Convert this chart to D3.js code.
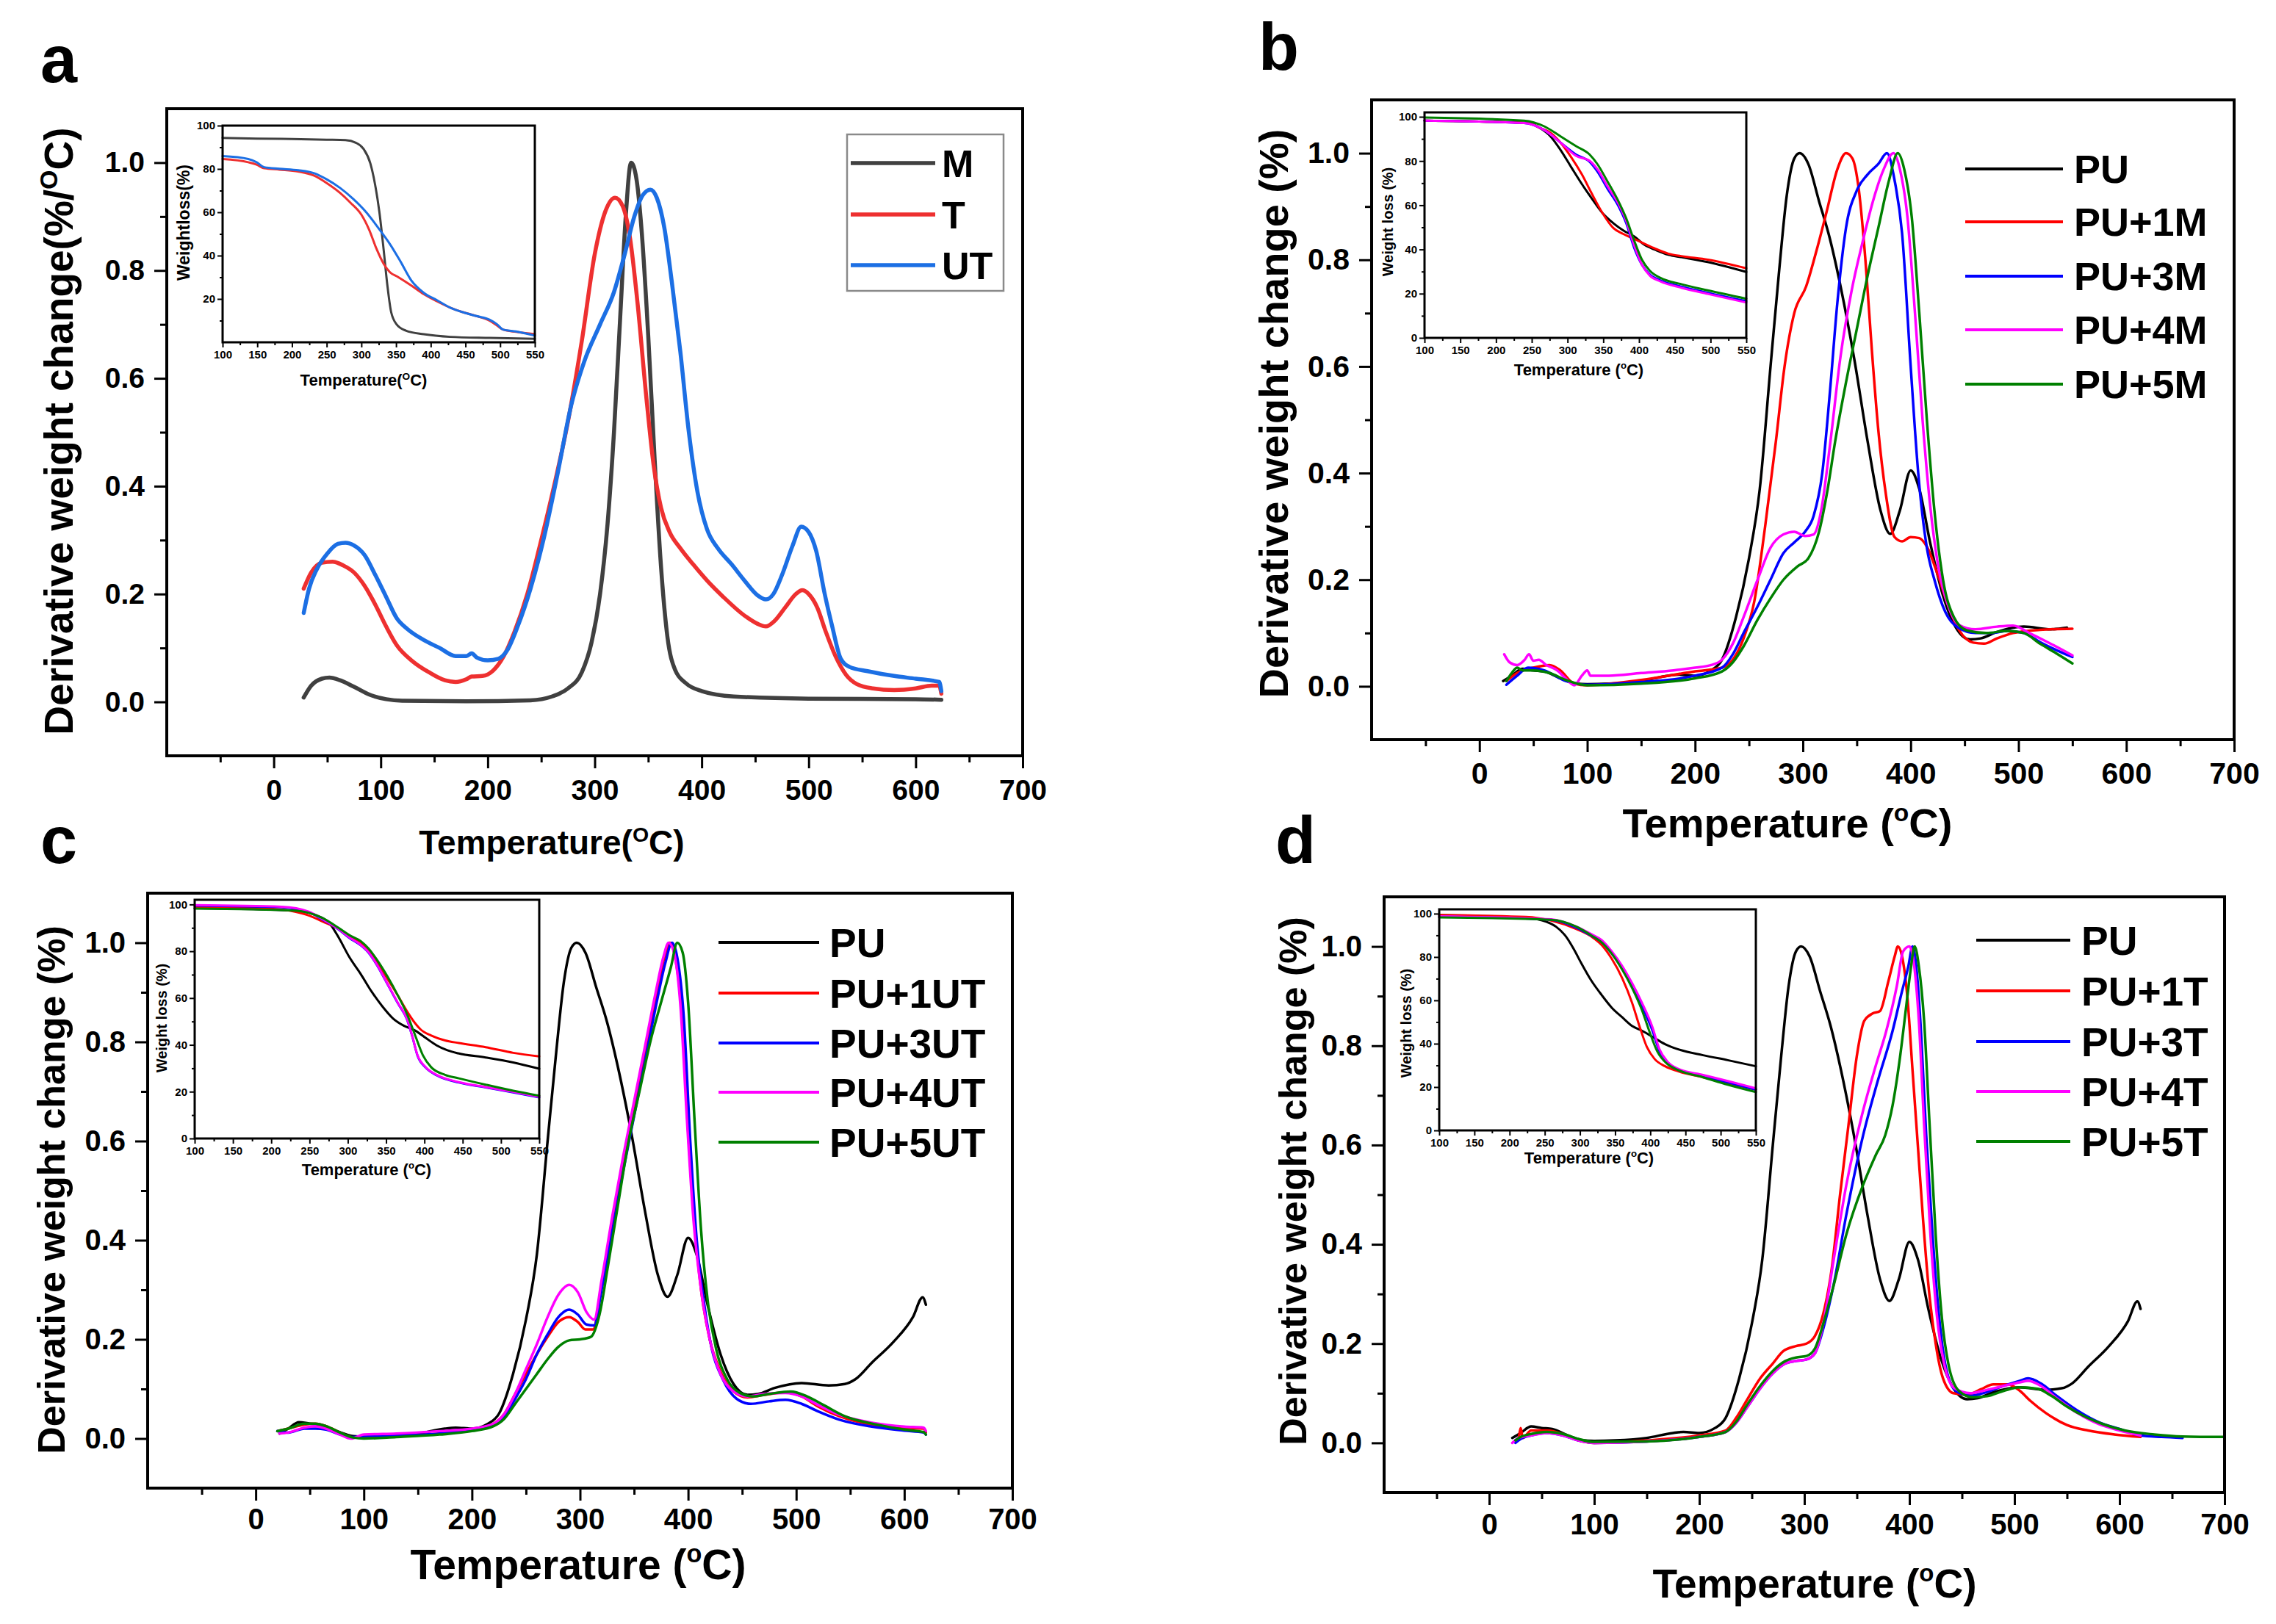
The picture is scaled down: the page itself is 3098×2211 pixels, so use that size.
<!DOCTYPE html>
<html><head><meta charset="utf-8">
<script src="https://cdn.jsdelivr.net/npm/d3@7"></script>
<style>body{margin:0;background:#fff}</style>
</head><body><svg id="chart" width="3098" height="2211"></svg>
<script>
// ---------------- DATA ----------------
const mainXTicks = [0,100,200,300,400,500,600,700];
const mainXMinor = [-50,50,150,250,350,450,550,650];
const mainYTicks = [0,0.2,0.4,0.6,0.8,1.0];
const mainYMinor = [0.1,0.3,0.5,0.7,0.9];
const insetXTicks = [100,150,200,250,300,350,400,450,500,550];
const insetXMinor = [125,175,225,275,325,375,425,475,525];
const insetYTicksA = [20,40,60,80,100];
const insetYTicks = [0,20,40,60,80,100];
const insetYMinor = [10,30,50,70,90];

const legendA = ['M','T','UT'];
const legendB = ['PU','PU+1M','PU+3M','PU+4M','PU+5M'];
const legendC = ['PU','PU+1UT','PU+3UT','PU+4UT','PU+5UT'];
const legendD = ['PU','PU+1T','PU+3T','PU+4T','PU+5T'];

// Panel a: DTG
const a_M = [[28,0.008],[35,0.03],[45,0.043],[52,0.045],[62,0.04],[75,0.028],[90,0.013],[105,0.005],[120,0.002],[180,0.001],[240,0.003],[260,0.01],[275,0.025],[288,0.055],[297,0.11],[305,0.2],[312,0.33],[318,0.5],[324,0.72],[329,0.9],[334,1.0],[339,0.97],[344,0.87],[350,0.68],[356,0.45],[362,0.25],[368,0.12],[375,0.06],[385,0.035],[400,0.02],[430,0.01],[500,0.006],[600,0.005],[624,0.004]];
const a_T = [[28,0.21],[35,0.24],[45,0.258],[55,0.26],[65,0.253],[75,0.24],[85,0.215],[95,0.18],[105,0.14],[115,0.105],[130,0.075],[145,0.055],[160,0.04],[170,0.037],[180,0.042],[185,0.047],[195,0.048],[205,0.058],[215,0.085],[225,0.13],[237,0.2],[250,0.3],[262,0.4],[275,0.52],[288,0.67],[300,0.83],[310,0.91],[319,0.935],[326,0.92],[333,0.86],[340,0.74],[348,0.57],[355,0.44],[362,0.36],[370,0.315],[380,0.285],[392,0.255],[405,0.225],[420,0.195],[440,0.16],[452,0.145],[460,0.14],[468,0.15],[478,0.175],[488,0.2],[494,0.207],[500,0.2],[508,0.175],[516,0.13],[525,0.085],[535,0.05],[545,0.033],[560,0.025],[580,0.022],[600,0.025],[615,0.03],[622,0.03],[624,0.015]];
const a_UT = [[28,0.165],[33,0.21],[40,0.245],[50,0.275],[60,0.293],[67,0.295],[75,0.29],[85,0.272],[95,0.235],[105,0.195],[115,0.155],[125,0.135],[140,0.115],[155,0.1],[170,0.085],[180,0.085],[185,0.09],[190,0.082],[200,0.077],[210,0.08],[218,0.095],[228,0.14],[240,0.21],[252,0.3],[265,0.42],[278,0.55],[290,0.63],[305,0.7],[318,0.76],[328,0.83],[337,0.9],[345,0.94],[352,0.95],[358,0.935],[365,0.88],[372,0.78],[380,0.65],[388,0.5],[396,0.39],[405,0.32],[415,0.285],[428,0.255],[440,0.225],[452,0.198],[460,0.19],[467,0.2],[475,0.235],[485,0.29],[493,0.325],[500,0.315],[507,0.28],[515,0.2],[522,0.14],[530,0.08],[538,0.065],[555,0.057],[580,0.048],[600,0.043],[622,0.037],[624,0.02]];

// Pure PU (shared by b, c, d)
const PU = [[22,0.01],[30,0.02],[40,0.033],[50,0.03],[60,0.028],[75,0.015],[90,0.005],[100,0.004],[120,0.005],[150,0.01],[175,0.02],[185,0.022],[200,0.02],[215,0.03],[225,0.05],[238,0.13],[250,0.24],[260,0.37],[270,0.6],[278,0.78],[285,0.92],[292,0.99],[297,1.0],[305,0.98],[315,0.91],[325,0.84],[335,0.75],[348,0.61],[360,0.46],[372,0.33],[381,0.286],[390,0.33],[400,0.405],[408,0.37],[418,0.27],[430,0.17],[442,0.11],[455,0.088],[465,0.09],[480,0.102],[505,0.112],[530,0.107],[545,0.11],[555,0.12],[570,0.153],[590,0.195],[608,0.245],[617,0.285],[620,0.27]];

// Panel b
const b_1M = [[25,0.01],[35,0.025],[50,0.035],[65,0.04],[75,0.03],[88,0.005],[100,0.002],[150,0.012],[200,0.028],[225,0.035],[235,0.05],[245,0.09],[255,0.16],[265,0.3],[275,0.46],[283,0.6],[292,0.7],[303,0.75],[313,0.82],[322,0.89],[332,0.97],[340,1.0],[346,0.99],[352,0.93],[358,0.8],[364,0.63],[370,0.48],[377,0.36],[385,0.28],[392,0.272],[400,0.28],[408,0.278],[415,0.262],[425,0.21],[435,0.15],[445,0.105],[458,0.082],[468,0.08],[480,0.09],[495,0.1],[520,0.106],[550,0.108]];
const b_3M = [[25,0.003],[35,0.02],[45,0.035],[60,0.03],[80,0.01],[100,0.003],[150,0.008],[200,0.02],[225,0.035],[235,0.06],[245,0.1],[258,0.15],[270,0.2],[282,0.25],[292,0.27],[302,0.29],[310,0.32],[318,0.4],[325,0.55],[332,0.72],[340,0.86],[350,0.93],[360,0.96],[370,0.98],[378,1.0],[385,0.95],[392,0.85],[400,0.6],[407,0.4],[415,0.26],[422,0.2],[432,0.14],[444,0.11],[460,0.1],[475,0.1],[490,0.104],[505,0.1],[520,0.083],[535,0.068],[550,0.055]];
const b_4M = [[23,0.06],[28,0.045],[35,0.04],[42,0.05],[46,0.06],[50,0.048],[55,0.05],[62,0.04],[72,0.03],[80,0.015],[88,0.002],[95,0.02],[100,0.03],[103,0.02],[120,0.02],[150,0.025],[180,0.03],[200,0.035],[215,0.04],[225,0.05],[235,0.08],[245,0.13],[258,0.2],[270,0.26],[282,0.285],[292,0.29],[302,0.282],[310,0.285],[317,0.33],[325,0.45],[335,0.62],[345,0.74],[355,0.83],[365,0.91],[375,0.97],[384,1.0],[390,0.97],[397,0.88],[404,0.7],[411,0.5],[418,0.34],[426,0.22],[435,0.15],[445,0.115],[460,0.107],[480,0.112],[495,0.114],[510,0.1],[525,0.085],[550,0.058]];
const b_5M = [[25,0.01],[30,0.025],[35,0.035],[40,0.03],[50,0.03],[65,0.025],[80,0.012],[100,0.002],[150,0.005],[200,0.015],[225,0.028],[235,0.045],[245,0.075],[258,0.125],[270,0.165],[282,0.2],[295,0.225],[305,0.24],[315,0.29],[323,0.37],[330,0.46],[340,0.57],[350,0.67],[360,0.77],[370,0.86],[380,0.95],[388,1.0],[394,0.97],[401,0.88],[408,0.7],[415,0.5],[422,0.33],[430,0.2],[440,0.13],[452,0.105],[470,0.1],[490,0.104],[505,0.1],[520,0.08],[535,0.062],[550,0.043]];

// Panel c
const c_1UT = [[20,0.015],[30,0.02],[45,0.028],[55,0.03],[65,0.025],[78,0.012],[90,0.002],[100,0.005],[130,0.005],[170,0.01],[200,0.018],[220,0.03],[230,0.05],[240,0.09],[250,0.13],[260,0.17],[270,0.205],[280,0.235],[290,0.245],[298,0.235],[305,0.22],[312,0.22],[320,0.31],[330,0.44],[340,0.56],[350,0.67],[360,0.78],[370,0.89],[378,0.97],[383,1.0],[388,0.97],[394,0.86],[400,0.62],[406,0.43],[412,0.3],[420,0.2],[430,0.135],[442,0.095],[455,0.083],[470,0.088],[490,0.093],[505,0.085],[520,0.065],[540,0.045],[570,0.028],[600,0.022],[618,0.02],[620,0.012]];
const c_3UT = [[20,0.015],[30,0.012],[45,0.02],[55,0.02],[65,0.018],[78,0.008],[90,0.003],[100,0.005],[130,0.006],[170,0.01],[200,0.018],[220,0.028],[230,0.045],[240,0.08],[250,0.12],[260,0.17],[270,0.21],[280,0.245],[290,0.26],[298,0.25],[306,0.23],[313,0.228],[320,0.3],[330,0.42],[340,0.54],[350,0.65],[360,0.76],[370,0.87],[379,0.96],[385,1.0],[390,0.97],[396,0.85],[402,0.6],[408,0.4],[415,0.27],[422,0.18],[432,0.12],[445,0.08],[458,0.07],[475,0.075],[490,0.078],[505,0.07],[520,0.055],[540,0.038],[570,0.024],[600,0.016],[618,0.012],[620,0.008]];
const c_4UT = [[22,0.01],[30,0.012],[45,0.022],[55,0.025],[65,0.02],[78,0.008],[88,0.0],[100,0.008],[130,0.01],[170,0.015],[200,0.02],[220,0.03],[230,0.05],[240,0.09],[250,0.14],[260,0.19],[270,0.245],[280,0.29],[290,0.31],[298,0.295],[306,0.255],[313,0.24],[320,0.32],[330,0.45],[340,0.57],[350,0.68],[360,0.79],[370,0.9],[377,0.97],[382,1.0],[387,0.98],[393,0.87],[399,0.64],[405,0.44],[412,0.3],[420,0.2],[430,0.13],[442,0.095],[455,0.085],[470,0.09],[490,0.092],[505,0.085],[520,0.068],[540,0.048],[570,0.032],[600,0.024],[618,0.022],[620,0.015]];
const c_5UT = [[20,0.015],[30,0.02],[45,0.03],[55,0.03],[65,0.025],[78,0.012],[90,0.002],[100,0.0],[130,0.003],[170,0.008],[200,0.015],[220,0.025],[230,0.04],[240,0.07],[250,0.1],[260,0.13],[270,0.16],[280,0.185],[290,0.198],[300,0.2],[310,0.205],[318,0.25],[326,0.35],[335,0.47],[345,0.6],[355,0.7],[365,0.8],[375,0.88],[384,0.95],[390,1.0],[395,0.98],[400,0.88],[406,0.64],[412,0.42],[418,0.28],[426,0.18],[436,0.12],[448,0.092],[460,0.085],[475,0.09],[495,0.095],[510,0.085],[525,0.068],[545,0.045],[575,0.028],[600,0.018],[618,0.013],[620,0.008]];

// Panel d
const d_1T = [[25,0.005],[28,0.01],[30,0.03],[32,0.01],[40,0.025],[55,0.025],[70,0.018],[85,0.005],[100,0.0],[150,0.005],[200,0.015],[225,0.025],[235,0.05],[245,0.085],[258,0.13],[270,0.16],[280,0.185],[292,0.195],[302,0.2],[310,0.215],[318,0.26],[326,0.35],[334,0.5],[342,0.64],[350,0.78],[357,0.85],[365,0.865],[372,0.87],[380,0.93],[386,0.98],[389,1.0],[393,0.98],[398,0.9],[403,0.75],[408,0.6],[413,0.45],[418,0.32],[425,0.2],[432,0.13],[442,0.1],[455,0.097],[468,0.108],[480,0.118],[494,0.118],[505,0.105],[515,0.085],[530,0.06],[550,0.036],[570,0.025],[595,0.017],[620,0.012]];
const d_3T = [[25,0.0],[30,0.008],[40,0.015],[55,0.02],[70,0.015],[85,0.005],[100,0.0],[150,0.003],[200,0.012],[225,0.022],[235,0.04],[245,0.07],[258,0.11],[270,0.14],[282,0.16],[292,0.165],[302,0.168],[310,0.18],[318,0.23],[328,0.32],[340,0.46],[356,0.62],[370,0.73],[384,0.83],[393,0.91],[399,0.96],[403,1.0],[407,0.95],[411,0.83],[416,0.62],[422,0.42],[428,0.26],[434,0.16],[444,0.105],[458,0.095],[470,0.1],[490,0.115],[505,0.125],[513,0.13],[525,0.12],[540,0.095],[560,0.065],[580,0.042],[600,0.028],[620,0.015],[640,0.012],[660,0.01]];
const d_4T = [[22,0.0],[28,0.01],[40,0.015],[55,0.02],[70,0.015],[85,0.005],[100,0.0],[150,0.003],[200,0.012],[225,0.022],[235,0.04],[245,0.07],[258,0.11],[270,0.14],[282,0.16],[292,0.165],[302,0.168],[310,0.18],[318,0.24],[328,0.37],[340,0.52],[356,0.67],[368,0.76],[378,0.83],[388,0.92],[394,0.99],[400,1.0],[404,0.97],[409,0.85],[414,0.64],[420,0.42],[426,0.26],[433,0.16],[443,0.11],[458,0.1],[470,0.105],[490,0.115],[505,0.122],[513,0.125],[525,0.115],[540,0.09],[560,0.06],[580,0.038],[600,0.025],[620,0.015]];
const d_5T = [[25,0.005],[30,0.012],[40,0.018],[55,0.022],[70,0.018],[85,0.008],[100,0.002],[150,0.003],[200,0.012],[225,0.022],[235,0.042],[245,0.075],[258,0.115],[270,0.145],[282,0.165],[292,0.172],[302,0.175],[310,0.19],[318,0.24],[328,0.318],[340,0.42],[356,0.52],[368,0.58],[377,0.62],[384,0.68],[391,0.776],[397,0.88],[401,0.95],[405,1.0],[409,0.96],[414,0.85],[419,0.65],[425,0.42],[431,0.25],[437,0.16],[447,0.105],[460,0.092],[474,0.094],[490,0.105],[505,0.112],[522,0.109],[535,0.095],[550,0.073],[568,0.052],[584,0.038],[605,0.025],[633,0.017],[660,0.013],[700,0.012]];

// Insets: TGA weight loss
const ia_M = [[100,94.3],[150,94],[200,93.8],[250,93.5],[277,93.3],[292,92.1],[303,89.3],[313,82.5],[320,72.4],[326,60],[332,43],[337.5,26.2],[343,13.8],[351,8.2],[364,5.4],[390,3.7],[428,2.5],[485,2],[550,1.6]];
const ia_T = [[100,84.6],[137,83.1],[149,82],[160,80.3],[182,79.7],[209,78.8],[232,76.9],[250,73.5],[269,69],[284,64.5],[300,58.9],[311,52.1],[322,43],[332,36.3],[341,32.4],[353,30.1],[372,26.2],[390,22.2],[409,18.9],[428,16],[447,13.8],[466,12.1],[485,9.9],[496,7.6],[504,5.9],[523,4.8],[550,3.7]];
const ia_UT = [[100,85.9],[137,84.6],[149,83.1],[160,80.8],[182,80.1],[209,79.4],[232,78],[250,75.2],[269,71.3],[288,66.2],[307,60],[326,52.1],[341,45.4],[356,37.5],[372,28.5],[390,22.8],[409,19.4],[428,16],[447,13.8],[466,12.1],[485,10.4],[496,8.2],[504,5.9],[523,5],[550,3.1]];

const ib_PU = [[100,98.3],[246,97.2],[261,95],[276,91.2],[290,85.1],[305,77.3],[320,69.6],[334,63],[349,56.4],[364,51.9],[378,48.6],[393,45.9],[408,42],[423,39.8],[441,37.6],[459,36.5],[496,34.3],[550,29.8]];
const ib_1M = [[100,98.3],[246,97.2],[261,95],[276,92.8],[290,88.4],[305,81.8],[320,74],[334,65.2],[349,56.4],[364,49.7],[378,47],[393,44.8],[408,42.5],[423,40.3],[441,38.1],[459,37],[496,35.4],[550,31.5]];
const ib_3M = [[100,98.3],[239,97.2],[268,93.9],[290,88.4],[312,82.9],[331,79.6],[342,75.1],[356,67.4],[371,59.7],[382,51.9],[393,40.9],[404,33.1],[415,28.7],[430,26],[459,23.2],[496,20.4],[550,16.6]];
const ib_4M = [[100,98.3],[239,97.2],[268,93.9],[290,88.4],[312,82.3],[331,80.1],[342,76.2],[356,68.5],[371,60.8],[382,53],[393,42],[404,33.1],[415,28.2],[430,25.5],[459,22.7],[496,19.9],[550,16]];
const ib_5M = [[100,99.7],[239,98.3],[268,95.6],[290,91.2],[312,86.7],[331,82.9],[342,78.5],[356,70.7],[371,61.9],[382,54.1],[393,44.2],[404,35.4],[415,30.4],[430,27.1],[459,24.3],[496,21.5],[550,17.7]];

const ic_PU = [[100,98.4],[231,97.4],[267,94.2],[278,91.1],[288,85.9],[302,77.5],[317,70.2],[331,62.8],[345,56.5],[359,51.3],[373,48.2],[388,46.1],[402,42.9],[416,39.8],[430,37.7],[444,36.4],[480,34.6],[516,32.5],[550,29.8]];
const ic_1UT = [[100,99],[196,98.2],[231,96.9],[249,95.3],[267,92.7],[288,89.5],[302,86.4],[317,83.8],[327,80.6],[338,75.4],[352,68.1],[366,60.7],[377,54.5],[388,49.2],[395,46.6],[409,44],[427,41.9],[445,40.8],[480,39],[516,36.6],[550,35.1]];
const ic_3UT = [[100,99.5],[214,98.8],[249,96.7],[267,93.5],[288,89.3],[302,85.7],[317,82.5],[327,79.4],[338,74.1],[352,65.8],[366,57.4],[377,51.1],[384,43.8],[391,35.4],[402,30.2],[416,27],[445,23.9],[480,21.8],[516,19.7],[550,17.6]];
const ic_4UT = [[100,99.7],[214,99],[249,96.9],[267,93.7],[288,89.5],[302,85.9],[317,82.7],[327,79.6],[338,74.3],[352,66],[366,57.6],[377,51.3],[384,44],[391,35.6],[402,30.4],[416,27.2],[445,24.1],[480,22],[516,19.9],[550,17.8]];
const ic_5UT = [[100,98.2],[231,97.4],[267,94.2],[288,90],[302,86.9],[317,84.3],[327,81.2],[338,76.4],[352,69.1],[366,60.7],[377,53.4],[388,44],[398,35.6],[409,30.4],[427,27.2],[445,25.7],[480,23],[516,20.4],[550,18.3]];

const id_PU = [[100,99.4],[223,98],[252,96.3],[266,94],[280,89.5],[291,83.8],[302,77.1],[316,69.2],[331,62.4],[345,56.7],[360,52.2],[374,48.2],[388,46],[403,43.2],[421,39.8],[439,37.5],[475,34.7],[510,32.4],[550,29.6]];
const id_1T = [[100,99.4],[223,98.5],[259,96.8],[295,92.9],[316,89.5],[331,85.5],[345,79.3],[360,70.3],[374,59],[385,47.7],[395,38.6],[406,33],[421,29.6],[439,27.3],[475,24.5],[510,21.7],[550,18.9]];
const id_3T = [[100,98.6],[259,97.2],[295,93.5],[316,89.8],[331,86.8],[345,81.6],[360,74.6],[374,66.5],[388,57.2],[403,46],[413,36.5],[424,31],[439,28],[475,25.1],[510,22.2],[550,18.8]];
const id_4T = [[100,98.8],[259,97.4],[295,94],[316,90.6],[331,87.8],[345,82.7],[360,75.9],[374,68],[388,59],[403,47.7],[413,37.5],[424,31.9],[439,28.5],[475,25.6],[510,22.8],[550,19.4]];
const id_5T = [[100,98.3],[259,97.2],[295,94],[316,90],[331,86.7],[345,81.6],[360,74.2],[374,65.8],[388,55.6],[399,45.4],[410,36.4],[424,30.7],[439,27.9],[475,24.5],[510,21.1],[550,17.7]];

// ---------------- DRAWING ----------------
const FONT = "'Liberation Sans', Arial, Helvetica, sans-serif";
const svg = d3.select('#chart');
svg.append('rect').attr('width',3098).attr('height',2211).attr('fill','#fff');

const colsA = ['#404040','#ee3030','#1c6fe4'];
const colsP = ['#000000','#ff0000','#0000ff','#ff00ff','#008000'];

function styleAxis(sel, fs, tw) {
  sel.select('.domain').remove();
  sel.selectAll('.tick line').attr('stroke','#000').attr('stroke-width',tw);
  sel.attr('font-family',FONT).attr('font-size',fs).attr('font-weight','bold');
  sel.selectAll('.tick text').attr('fill','#000');
}

function addText(g, t) {
  const txt = g.append('text')
    .attr('transform', `translate(${t.x},${t.y})` + (t.rot ? ' rotate(-90)' : ''))
    .attr('text-anchor', t.anchor || 'middle')
    .attr('font-family', FONT).attr('font-weight','bold')
    .attr('font-size', t.fs).attr('fill','#000');
  txt.append('tspan').text(t.pre);
  if (t.sup) {
    txt.append('tspan').attr('font-size', t.fs*t.supScale).attr('dy', -t.fs*t.supRise).text(t.sup);
    txt.append('tspan').attr('dy', t.fs*t.supRise).text(t.post);
  }
  return txt;
}

function drawInset(g, c) {
  const [x0,y0,x1,y1] = c.frame;
  const x = d3.scaleLinear().domain([100,550]).range([x0,x1]);
  const y = d3.scaleLinear().domain([0,c.ymax]).range([y1,y0]);
  g.append('rect').attr('x',x0).attr('y',y0).attr('width',x1-x0).attr('height',y1-y0).attr('fill','#fff');
  const line = d3.line().x(d=>x(d[0])).y(d=>y(d[1])).curve(d3.curveMonotoneX);
  c.series.forEach((s,i)=>{
    g.append('path').attr('d',line(s)).attr('fill','none').attr('stroke',c.colors[i])
      .attr('stroke-width',c.lw).attr('stroke-linejoin','round').attr('stroke-linecap','round');
  });
  const xa = g.append('g').attr('transform',`translate(0,${y1})`)
    .call(d3.axisBottom(x).tickValues(insetXTicks).tickSize(7).tickPadding(4).tickFormat(d3.format('d')));
  styleAxis(xa, c.fs, 2);
  const xm = g.append('g').attr('transform',`translate(0,${y1})`)
    .call(d3.axisBottom(x).tickValues(insetXMinor).tickSize(4).tickFormat(''));
  styleAxis(xm, c.fs, 2);
  const ya = g.append('g').attr('transform',`translate(${x0},0)`)
    .call(d3.axisLeft(y).tickValues(c.yTicks).tickSize(7).tickPadding(3).tickFormat(d3.format('d')));
  styleAxis(ya, c.fs, 2);
  const ym = g.append('g').attr('transform',`translate(${x0},0)`)
    .call(d3.axisLeft(y).tickValues(insetYMinor).tickSize(4).tickFormat(''));
  styleAxis(ym, c.fs, 2);
  g.append('rect').attr('x',x0).attr('y',y0).attr('width',x1-x0).attr('height',y1-y0)
    .attr('fill','none').attr('stroke','#000').attr('stroke-width',3);
  addText(g, c.xTitle);
  addText(g, c.yTitle);
}

function drawPanel(p) {
  const g = svg.append('g');
  const [x0,y0,x1,y1] = p.frame;
  const x = d3.scaleLinear().domain([-100,700]).range([x0,x1]);
  const y = d3.scaleLinear().domain([-0.1,1.1]).range([y1,y0]);
  const line = d3.line().x(d=>x(d[0])).y(d=>y(d[1])).curve(d3.curveMonotoneX);
  p.series.forEach((s,i)=>{
    g.append('path').attr('d',line(s)).attr('fill','none').attr('stroke',p.colors[i])
      .attr('stroke-width',p.lw).attr('stroke-linejoin','round').attr('stroke-linecap','round');
  });
  // axes
  const xa = g.append('g').attr('transform',`translate(0,${y1})`)
    .call(d3.axisBottom(x).tickValues(mainXTicks).tickSize(17).tickPadding(p.xpad).tickFormat(d3.format('d')));
  styleAxis(xa, p.tfs, 3);
  const xm = g.append('g').attr('transform',`translate(0,${y1})`)
    .call(d3.axisBottom(x).tickValues(mainXMinor).tickSize(9).tickFormat(''));
  styleAxis(xm, p.tfs, 3);
  const ya = g.append('g').attr('transform',`translate(${x0},0)`)
    .call(d3.axisLeft(y).tickValues(mainYTicks).tickSize(17).tickPadding(13).tickFormat(d3.format('.1f')));
  styleAxis(ya, p.tfs, 3);
  const ym = g.append('g').attr('transform',`translate(${x0},0)`)
    .call(d3.axisLeft(y).tickValues(mainYMinor).tickSize(9).tickFormat(''));
  styleAxis(ym, p.tfs, 3);
  g.append('rect').attr('x',x0).attr('y',y0).attr('width',x1-x0).attr('height',y1-y0)
    .attr('fill','none').attr('stroke','#000').attr('stroke-width',4);
  // titles
  addText(g, p.xTitle);
  addText(g, p.yTitle);
  // panel letter
  g.append('text').attr('x',p.letter.x).attr('y',p.letter.y).attr('font-family',FONT)
    .attr('font-weight','bold').attr('font-size',90).attr('fill','#000').text(p.letter.t);
  // legend
  const L = p.legend;
  if (L.box) {
    g.append('rect').attr('x',L.box[0]).attr('y',L.box[1]).attr('width',L.box[2]-L.box[0])
      .attr('height',L.box[3]-L.box[1]).attr('fill','#fff').attr('stroke','#8a8a8a').attr('stroke-width',2.5);
  }
  L.labels.forEach((lab,i)=>{
    const ry = L.rows[i];
    g.append('line').attr('x1',L.lx[0]).attr('x2',L.lx[1]).attr('y1',ry).attr('y2',ry)
      .attr('stroke',p.colors[i]).attr('stroke-width',L.lw);
    g.append('text').attr('x',L.tx).attr('y',ry + L.fs*0.36).attr('font-family',FONT)
      .attr('font-weight','bold').attr('font-size',L.fs).attr('fill','#000').text(lab);
  });
  drawInset(g, p.inset);
}

const supA = {supScale:0.62, supRise:0.38};
const supB = {supScale:0.6, supRise:0.4};

drawPanel({
  frame:[227,148,1392,1029], series:[a_M,a_T,a_UT], colors:colsA, lw:5.5, tfs:39, xpad:15,
  xTitle:Object.assign({x:751,y:1163,fs:46,pre:'Temperature(',sup:'O',post:'C)'},supA),
  yTitle:Object.assign({x:99,y:587,fs:55,rot:true,pre:'Derivative weight change(%/',sup:'O',post:'C)'},supA),
  letter:{x:55,y:112,t:'a'},
  legend:{box:[1153,183,1366,396], labels:legendA, rows:[222,292,361], lx:[1158,1273], tx:1282, fs:52, lw:5.5},
  inset:{frame:[303,171,728,466], ymax:100, series:[ia_M,ia_T,ia_UT], colors:colsA, lw:3, fs:15, yTicks:insetYTicksA,
    xTitle:Object.assign({x:495,y:525,fs:22,pre:'Temperature(',sup:'O',post:'C)'},supA),
    yTitle:Object.assign({x:258,y:303,fs:23,rot:true,pre:'Weightloss(%)'},supA)}
});

drawPanel({
  frame:[1867,136,3041,1007], series:[PU.filter(d=>d[0]<=550),b_1M,b_3M,b_4M,b_5M], colors:colsP, lw:3.5, tfs:41, xpad:14,
  xTitle:Object.assign({x:2433,y:1140,fs:56,pre:'Temperature (',sup:'o',post:'C)'},supB),
  yTitle:Object.assign({x:1753,y:563,fs:56,rot:true,pre:'Derivative weight change (%)'},supB),
  letter:{x:1713,y:95,t:'b'},
  legend:{labels:legendB, rows:[230,302,376,449,523], lx:[2675,2808], tx:2823, fs:54, lw:4},
  inset:{frame:[1939,153,2377,460], ymax:102, series:[ib_PU,ib_1M,ib_3M,ib_4M,ib_5M], colors:colsP, lw:3, fs:15, yTicks:insetYTicks,
    xTitle:Object.assign({x:2149,y:511,fs:22,pre:'Temperature (',sup:'o',post:'C)'},supB),
    yTitle:Object.assign({x:1896,y:302,fs:20,rot:true,pre:'Weight loss (%)'},supB)}
});

drawPanel({
  frame:[201,1216,1378,2026], series:[PU,c_1UT,c_3UT,c_4UT,c_5UT], colors:colsP, lw:3.5, tfs:40, xpad:11,
  xTitle:Object.assign({x:787,y:2150,fs:57,pre:'Temperature (',sup:'o',post:'C)'},supB),
  yTitle:Object.assign({x:88,y:1620,fs:52,rot:true,pre:'Derivative weight change (%)'},supB),
  letter:{x:55,y:1175,t:'c'},
  legend:{labels:legendC, rows:[1283,1352,1420,1487,1555], lx:[978,1115], tx:1129, fs:55, lw:4},
  inset:{frame:[265,1225,734,1550], ymax:102, series:[ic_PU,ic_1UT,ic_3UT,ic_4UT,ic_5UT], colors:colsP, lw:3, fs:15, yTicks:insetYTicks,
    xTitle:Object.assign({x:499,y:1600,fs:22,pre:'Temperature (',sup:'o',post:'C)'},supB),
    yTitle:Object.assign({x:227,y:1386,fs:20,rot:true,pre:'Weight loss (%)'},supB)}
});

drawPanel({
  frame:[1884,1221,3028,2032], series:[PU,d_1T,d_3T,d_4T,d_5T], colors:colsP, lw:3.5, tfs:40, xpad:12,
  xTitle:Object.assign({x:2470,y:2175,fs:55,pre:'Temperature (',sup:'o',post:'C)'},supB),
  yTitle:Object.assign({x:1778,y:1608,fs:52,rot:true,pre:'Derivative weight change (%)'},supB),
  letter:{x:1736,y:1175,t:'d'},
  legend:{labels:legendD, rows:[1280,1349,1418,1486,1554], lx:[2690,2818], tx:2833, fs:55, lw:4},
  inset:{frame:[1959,1238,2390,1539], ymax:102, series:[id_PU,id_1T,id_3T,id_4T,id_5T], colors:colsP, lw:3, fs:15, yTicks:insetYTicks,
    xTitle:Object.assign({x:2163,y:1584,fs:22,pre:'Temperature (',sup:'o',post:'C)'},supB),
    yTitle:Object.assign({x:1921,y:1393,fs:20,rot:true,pre:'Weight loss (%)'},supB)}
});
</script></body></html>
